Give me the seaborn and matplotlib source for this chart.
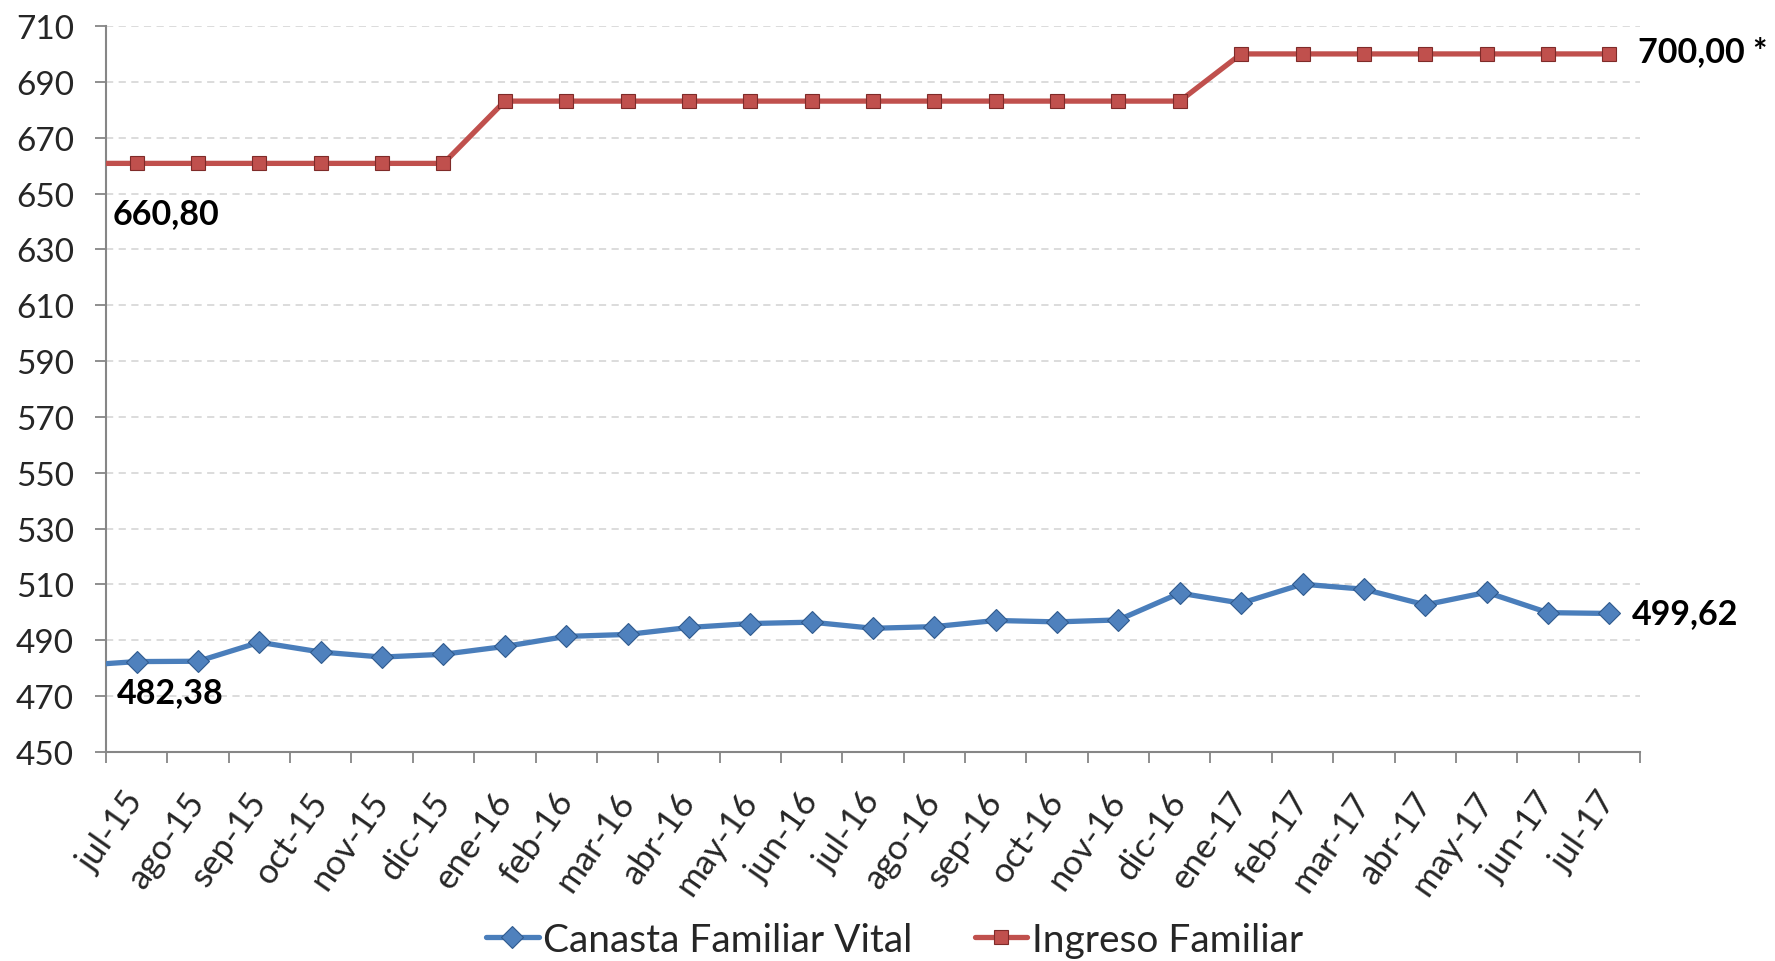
import numpy as np
import pandas as pd
import matplotlib
matplotlib.use("Agg")
import matplotlib.pyplot as plt
import seaborn as sns

# ---------------- data ----------------
months = ["jul-15", "ago-15", "sep-15", "oct-15", "nov-15", "dic-15",
          "ene-16", "feb-16", "mar-16", "abr-16", "may-16", "jun-16",
          "jul-16", "ago-16", "sep-16", "oct-16", "nov-16", "dic-16",
          "ene-17", "feb-17", "mar-17", "abr-17", "may-17", "jun-17", "jul-17"]
canasta = [482.38, 482.5, 489.3, 485.8, 484.0, 485.0, 487.8, 491.4, 492.1,
           494.6, 496.0, 496.5, 494.3, 494.9, 497.1, 496.6, 497.3, 506.9,
           503.3, 510.1, 508.3, 502.7, 507.2, 499.9, 499.62]
ingreso = [660.80] * 6 + [683.10] * 12 + [700.00] * 7
# value of the month before the plotted range (line enters from the axis edge)
canasta_prev = 480.9
ingreso_prev = 660.80
y_ticks = list(range(450, 711, 20))
series_names = ["Canasta Familiar Vital", "Ingreso Familiar"]
label_first = ["482,38", "660,80"]
label_last = ["499,62", "700,00 *"]

# ---------------- style ----------------
sns.set_theme(style="white")
plt.rcParams['font.family'] = ['Lato', 'DejaVu Sans']

BLUE_LINE = "#4A7EBB"
BLUE_FACE = "#4F81BD"
BLUE_EDGE = "#2F5A8E"
RED_LINE = "#C0504D"
RED_FACE = "#C0504D"
RED_EDGE = "#7F2B29"
AX_GREY = "#868686"
GRID = "#D9D9D9"

fig = plt.figure(figsize=(17.75, 9.62), dpi=100)
ax = fig.add_axes([106 / 1775, 1 - 753 / 962, (1640 - 106) / 1775, (753 - 27) / 962])

n = len(months)
xpos = np.arange(-1, n)
df_c = pd.DataFrame({"x": xpos, "v": [canasta_prev] + canasta})
df_i = pd.DataFrame({"x": xpos, "v": [ingreso_prev] + ingreso})

sns.lineplot(data=df_c, x="x", y="v", ax=ax, color=BLUE_LINE, lw=3.8,
             marker="D", markersize=11, markerfacecolor=BLUE_FACE,
             markeredgecolor=BLUE_EDGE, markeredgewidth=0.8,
             label=series_names[0], zorder=4, clip_on=True)
sns.lineplot(data=df_i, x="x", y="v", ax=ax, color=RED_LINE, lw=3.8,
             marker="s", markersize=10.5, markerfacecolor=RED_FACE,
             markeredgecolor=RED_EDGE, markeredgewidth=0.8,
             label=series_names[1], zorder=4, clip_on=True)

ax.set_xlim(-0.5, n - 0.5)
ax.set_ylim(450, 710)
ax.set_xlabel("")
ax.set_ylabel("")

# y axis
ax.set_yticks(y_ticks)
ax.set_yticklabels([str(t) for t in y_ticks], fontsize=24)
ax.yaxis.grid(True, color=GRID, linestyle=(0, (4, 3)), lw=1.3)
ax.xaxis.grid(False)
ax.set_axisbelow(True)

# x axis: labels at centers, tick marks at category boundaries
ax.set_xticks(np.arange(n))
ax.set_xticklabels(months, fontsize=25, rotation=55, ha="right",
                   va="center", rotation_mode="anchor")
ax.set_xticks(np.arange(-0.5, n), minor=True)
ax.tick_params(axis="x", which="major", length=0, pad=31)
ax.tick_params(axis="x", which="minor", length=8, width=1.3, color=AX_GREY,
               direction="out", bottom=True)
ax.tick_params(axis="y", which="major", length=8, width=1.3, color=AX_GREY,
               direction="out", pad=15, left=True)

for s in ["top", "right"]:
    ax.spines[s].set_visible(False)
for s in ["left", "bottom"]:
    ax.spines[s].set_color(AX_GREY)
    ax.spines[s].set_linewidth(1.5)

# data labels
lab_kw = dict(fontsize=24.5, fontweight="bold", color="black",
              textcoords="offset points", annotation_clip=False)
ax.annotate(label_first[0], (0, canasta[0]), xytext=(-14, -22),
            ha="left", va="center", **lab_kw)
ax.annotate(label_first[1], (0, ingreso[0]), xytext=(-17, -36),
            ha="left", va="center", **lab_kw)
ax.annotate(label_last[0], (n - 1, canasta[-1]), xytext=(16, 0),
            ha="left", va="center", **lab_kw)
ax.annotate(label_last[1], (n - 1, ingreso[-1]), xytext=(21, 2),
            ha="left", va="center", **lab_kw)

# legend
handles, labels = ax.get_legend_handles_labels()
ax.legend(handles, labels, loc="center", bbox_to_anchor=(0.504, 0.022),
          bbox_transform=fig.transFigure, ncol=2, frameon=False,
          fontsize=28, handlelength=1.35, handletextpad=0.12,
          columnspacing=1.6, borderaxespad=0)

fig.savefig("out.png", dpi=100)
